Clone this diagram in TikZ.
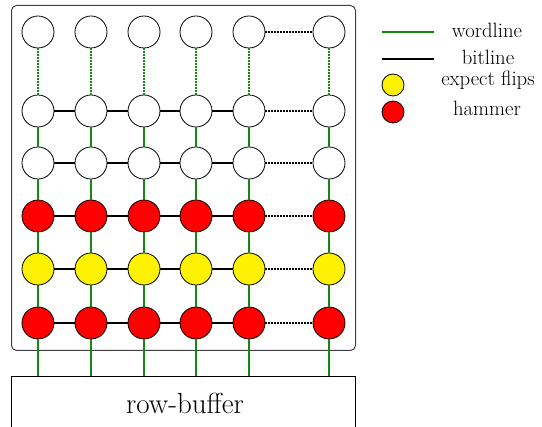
\documentclass[tikz,border=0pt]{standalone}
\usepackage{fontspec}
\definecolor{wlgreen}{RGB}{20,135,20}
\begin{document}
\begin{tikzpicture}[x=1pt,y=-1pt,
  cell/.style={circle,draw=black,line width=0.8pt,minimum size=32pt,inner sep=0pt},
  wl/.style={draw=wlgreen,line width=2pt},
  bl/.style={draw=black,line width=2pt},
  dotline/.style={dash pattern=on 1.4pt off 1.6pt},
  legtext/.style={font=\fontsize{20.7}{24}\selectfont,inner sep=0pt}]
\useasboundingbox (0,0) rectangle (542,427);
\clip (0,0) rectangle (542,427);
% array frame
\draw[rounded corners=5pt,line width=1pt,draw=black!75] (11.5,5.5) rectangle (355.5,350.5);
% row buffer
\node[draw=black,line width=1pt,minimum width=344pt,minimum height=70pt,inner sep=0pt] (rb) at (183.5,411.5) {};
\node[inner sep=0pt,font=\fontsize{29}{34}\selectfont] (rbt) at (185,403) {row-buffer};
% cells
\foreach \c/\x in {1/38,2/91,3/144,4/196,5/249,6/329}{
  \node[cell] (c\c-1) at (\x,32) {};
  \node[cell] (c\c-2) at (\x,111) {};
  \node[cell] (c\c-3) at (\x,163) {};
  \node[cell,fill=red] (c\c-4) at (\x,216) {};
  \node[cell,fill=yellow] (c\c-5) at (\x,269) {};
  \node[cell,fill=red] (c\c-6) at (\x,323) {};
}
% wordlines
\foreach \c in {1,...,6}{
  \draw[wl,dotline] (c\c-1.south) -- (c\c-2.north);
  \draw[wl] (c\c-2.south) -- (c\c-3.north);
  \draw[wl] (c\c-3.south) -- (c\c-4.north);
  \draw[wl] (c\c-4.south) -- (c\c-5.north);
  \draw[wl] (c\c-5.south) -- (c\c-6.north);
  \draw[wl] (c\c-6.south) -- (c\c-6.south |- rb.north);
}
% bitlines
\foreach \r in {2,...,6}{
  \foreach \c [evaluate=\c as \n using int(\c+1)] in {1,...,4}{
    \draw[bl] (c\c-\r.east) -- (c\n-\r.west);
  }
}
\foreach \r in {1,...,6}{
  \draw[bl,dotline] (c5-\r.east) -- (c6-\r.west);
}
% legend
\coordinate (lg1a) at (382,32);
\coordinate (lg1b) at (434,32);
\coordinate (lg2a) at (382,59);
\coordinate (lg2b) at (434,59);
\draw[wl] (lg1a) -- (lg1b);
\draw[bl] (lg2a) -- (lg2b);
\node[circle,draw=black,line width=0.8pt,fill=yellow,minimum size=22pt,inner sep=0pt] (lgy) at (393,85) {};
\node[circle,draw=black,line width=0.8pt,fill=red,minimum size=22pt,inner sep=0pt] (lgr) at (393,112) {};
\node[legtext] (t1) at (487,30.5) {wordline};
\node[legtext] (t2) at (488,57) {bitline};
\node[legtext] (t3) at (488,80) {expect flips};
\node[legtext] (t4) at (487,108) {hammer};
\end{tikzpicture}
\end{document}
